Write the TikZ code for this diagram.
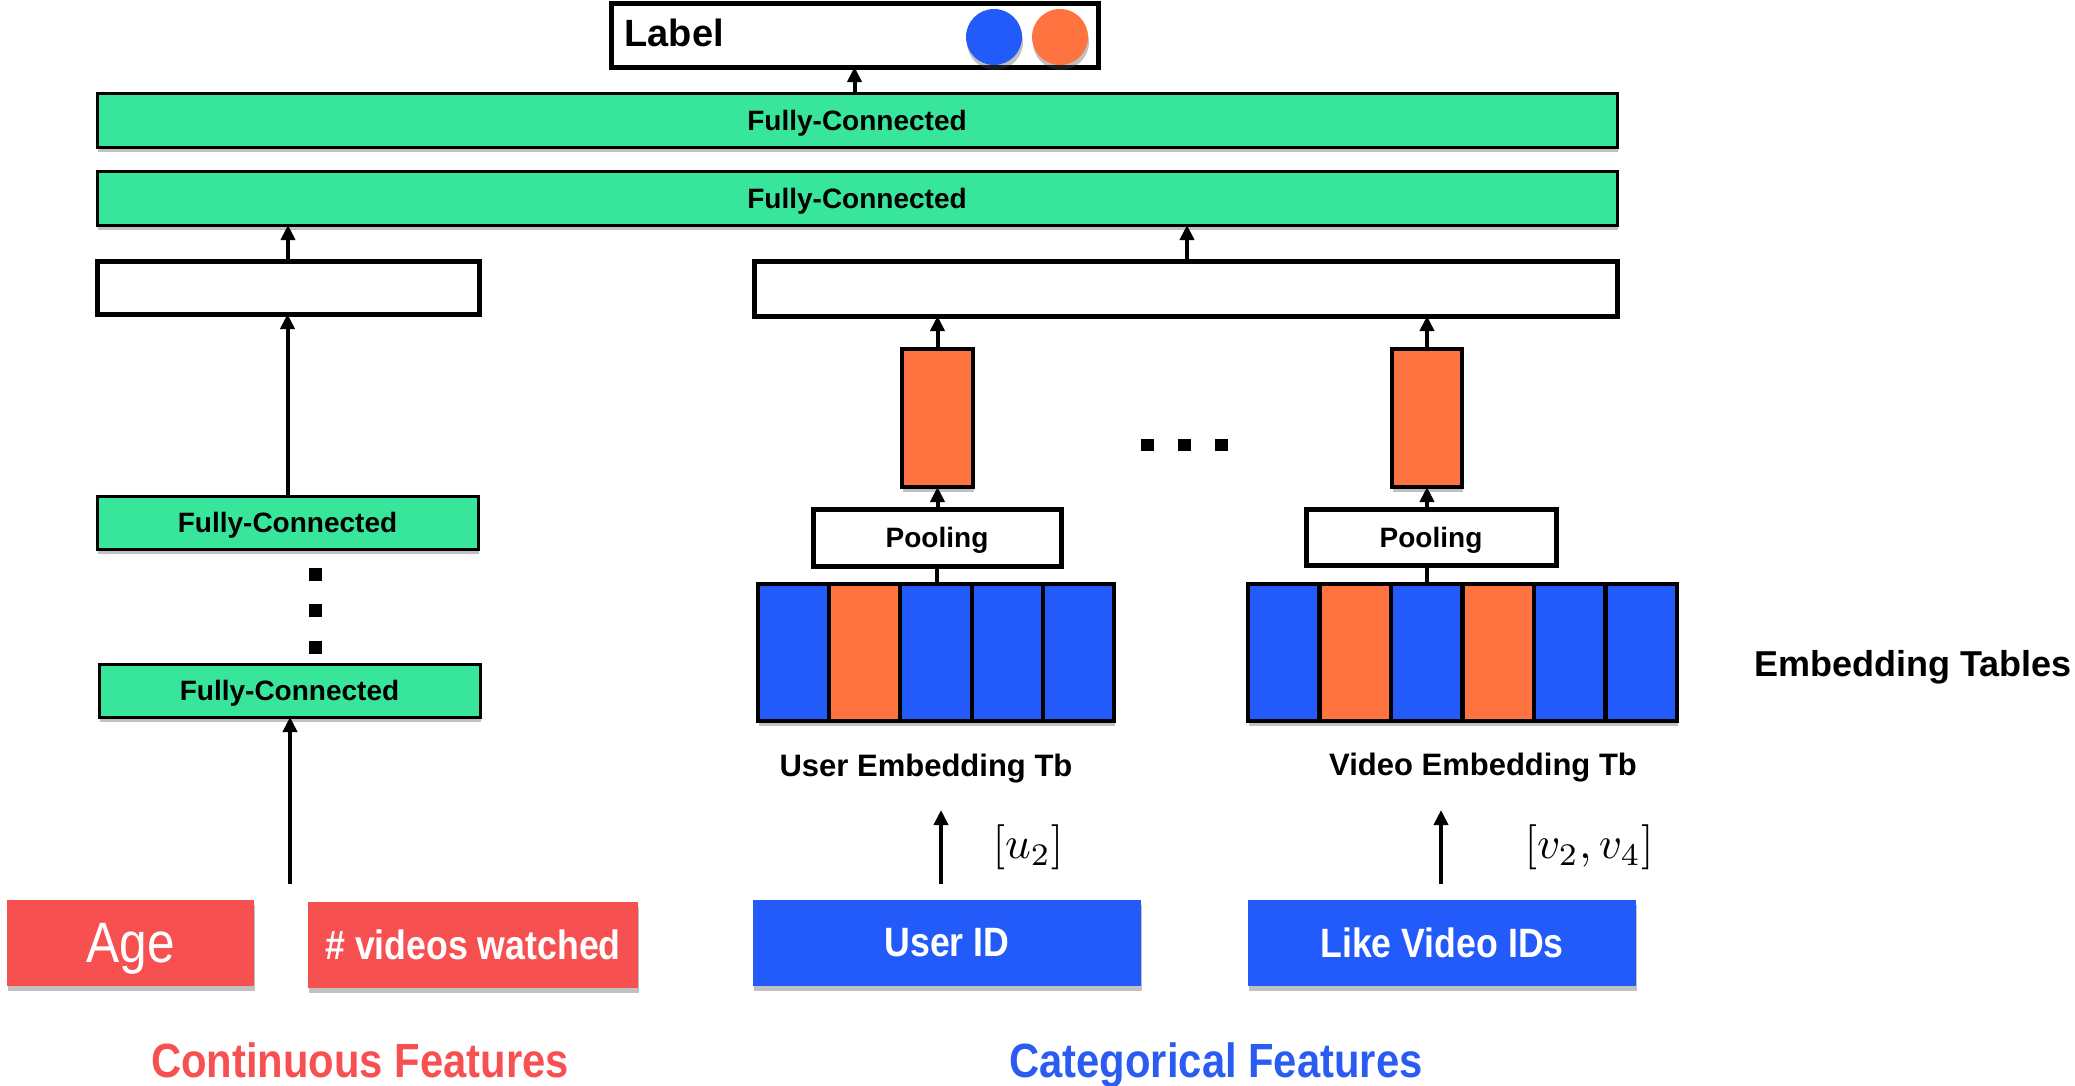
\documentclass[tikz,border=0pt]{standalone}
\usepackage{fontspec}
\setmainfont{Liberation Sans}
\newfontfamily\condfont[FakeStretch=0.87]{Liberation Sans}
\usetikzlibrary{arrows.meta,shadows}

\definecolor{fcgreen}{HTML}{37E59B}
\definecolor{embblue}{HTML}{225BF9}
\definecolor{emborange}{HTML}{FF7340}
\definecolor{featred}{HTML}{F75051}
\definecolor{catblue}{HTML}{2A5CF2}

\tikzset{
  shade/.style={drop shadow={shadow xshift=1pt, shadow yshift=-5pt, opacity=0.35, fill=black!70}},
  box/.style={rectangle, inner sep=0pt, outer sep=0pt},
  fcbox/.style={box, draw=black, line width=3pt, fill=fcgreen, shade, text depth=0pt,
    font=\fontsize{28}{30}\selectfont\bfseries},
  whitebox/.style={box, draw=black, line width=5pt, fill=white},
  vecbox/.style={box, draw=black, line width=4pt, fill=emborange, shade},
  cell/.style={box, draw=black, line width=4pt, minimum width=71.2pt, minimum height=137pt},
  featbox/.style={box, shade, text=white, minimum height=86pt},
  arr/.style={line width=4pt, -{Triangle[length=15pt,width=14pt]}},
  dot/.style={fill=black, minimum size=13pt, inner sep=0pt},
  caption/.style={font=\fontsize{31}{34}\selectfont\bfseries},
  poolbox/.style={whitebox, text depth=0pt, font=\fontsize{28}{30}\selectfont\bfseries},
  groupcap/.style={anchor=base, font=\condfont\fontsize{48}{50}\selectfont\bfseries},
}

\begin{document}
\begin{tikzpicture}[x=1pt, y=-1pt]
\useasboundingbox (0,0) rectangle (2075,1085);

% output label
\node[whitebox, minimum width=487pt, minimum height=64pt] (label) at (854.5,35) {};
\node[anchor=west, font=\fontsize{38}{40}\selectfont\bfseries] (labeltxt) at (621,33) {Label};
\node[circle, fill=embblue, minimum size=56pt, inner sep=0pt, shade] (cblue) at (994,37) {};
\node[circle, fill=emborange, minimum size=56pt, inner sep=0pt, shade] (corange) at (1060,37) {};

% shared fully-connected layers
\node[fcbox, minimum width=1520pt, minimum height=54pt] (fc1) at (857,120) {Fully-Connected};
\node[fcbox, minimum width=1520pt, minimum height=54pt] (fc2) at (857,198) {Fully-Connected};

% concatenated vectors
\node[whitebox, minimum width=382pt, minimum height=53pt] (wl) at (288,287.5) {};
\node[whitebox, minimum width=863pt, minimum height=55pt] (wr) at (1185.5,288.5) {};

% continuous tower
\node[fcbox, minimum width=381pt, minimum height=53pt] (fc3) at (287.5,522.5) {Fully-Connected};
\node[dot] (d1) at (315,574) {};
\node[dot] (d2) at (315,610) {};
\node[dot] (d3) at (315,647) {};
\node[fcbox, minimum width=381pt, minimum height=53pt] (fc4) at (289.5,690.5) {Fully-Connected};

% pooled embeddings
\node[vecbox, minimum width=71pt, minimum height=138pt] (vu) at (937.5,418) {};
\node[vecbox, minimum width=70pt, minimum height=138pt] (vv) at (1427,418) {};
\node[dot, minimum width=13pt, minimum height=12pt] (h1) at (1147,445) {};
\node[dot, minimum width=13pt, minimum height=12pt] (h2) at (1184,445) {};
\node[dot, minimum width=13pt, minimum height=12pt] (h3) at (1221,445) {};

\node[poolbox, minimum width=248pt, minimum height=57pt] (pu) at (937,537.5) {Pooling};
\node[poolbox, minimum width=250pt, minimum height=56pt] (pv) at (1431,537) {Pooling};

% embedding tables
\fill[black!70, opacity=0.35] (759,589) rectangle (1115,726);
\foreach \i/\c in {1/embblue,2/emborange,3/embblue,4/embblue,5/embblue}
  \node[cell, fill=\c] (u\i) at ({758+71.2*(\i-0.5)},652.5) {};
\fill[black!70, opacity=0.35] (1249,589) rectangle (1678,726);
\foreach \i/\c in {1/embblue,2/emborange,3/embblue,4/emborange,5/embblue,6/embblue}
  \node[cell, fill=\c] (v\i) at ({1248+71.5*(\i-0.5)},652.5) {};

\node[caption] (ucap) at (926,769) {User Embedding Tb};
\node[caption] (vcap) at (1483,768) {Video Embedding Tb};
\node[anchor=west, font=\fontsize{36}{40}\selectfont\bfseries] (etab) at (1751,667) {Embedding Tables};

% input features
\node[featbox, fill=featred, minimum width=247pt, text depth=0pt, font=\condfont\fontsize{57}{60}\selectfont] (age) at (130.5,943) {Age};
\node[featbox, fill=featred, minimum width=330pt, font=\condfont\fontsize{41}{44}\selectfont\bfseries] (nvid) at (473,945) {\# videos watched};
\node[featbox, fill=embblue, minimum width=388pt, font=\condfont\fontsize{41}{44}\selectfont\bfseries] (uid) at (947,943) {User ID};
\node[featbox, fill=embblue, minimum width=388pt, font=\condfont\fontsize{41}{44}\selectfont\bfseries] (lvid) at (1442,943) {Like Video IDs};

\node[groupcap, text=featred] (contf) at (360,1077) {Continuous Features};
\node[groupcap, text=catblue] (catf) at (1216,1077) {Categorical Features};

\node (uidx) at (1028,847) {\scalebox{4.5}{$[u_2]$}};
\node (vidx) at (1589,847) {\scalebox{4.5}{$[v_2,v_4]$}};

% connectors
\coordinate (contin) at (290,884);
\coordinate (uin) at (941,884);
\coordinate (uout) at (941,810);
\coordinate (vin) at (1441,884);
\coordinate (vout) at (1441,810);

\draw[arr] (fc1.north -| label.south) -- (label.south);
\draw[arr] (wl.north) -- (wl.north |- fc2.south);
\draw[arr] (wr.north -| 1187,0) -- (fc2.south -| 1187,0);
\draw[arr] (fc3.north) -- (fc3.north |- wl.south);
\draw[arr] (contin) -- (contin |- fc4.south);
\draw[arr] (vu.north) -- (vu.north |- wr.south);
\draw[arr] (vv.north) -- (vv.north |- wr.south);
\draw[arr] (pu.north -| vu.south) -- (vu.south);
\draw[arr] (pv.north -| vv.south) -- (vv.south);
\draw[line width=4pt] (pu.south) -- (pu.south |- u3.north);
\draw[line width=4pt] (pv.south -| vv.south) -- (vv.south |- v3.north);
\draw[arr] (uin) -- (uout);
\draw[arr] (vin) -- (vout);
\end{tikzpicture}
\end{document}
